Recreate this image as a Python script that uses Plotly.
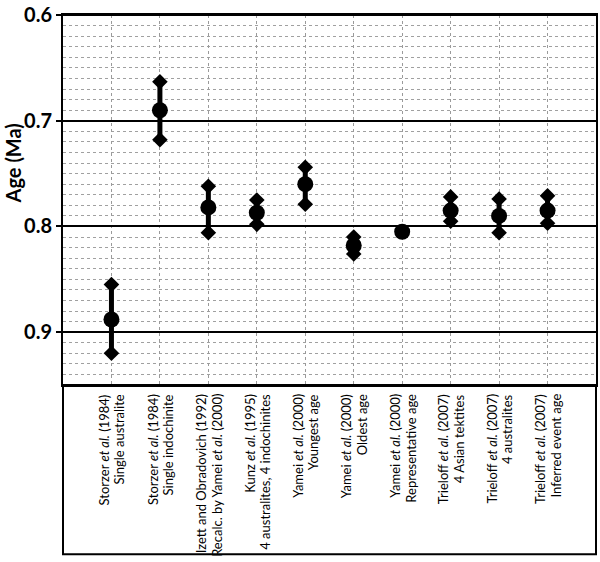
import plotly.graph_objects as go

label_line1 = [
    "Storzer <i>et al.</i> (1984)",
    "Storzer <i>et al.</i> (1984)",
    "Izett and Obradovich (1992)",
    "Kunz <i>et al.</i> (1995)",
    "Yamei <i>et al.</i> (2000)",
    "Yamei <i>et al.</i> (2000)",
    "Yamei <i>et al.</i> (2000)",
    "Trieloff <i>et al.</i> (2007)",
    "Trieloff <i>et al.</i> (2007)",
    "Trieloff <i>et al.</i> (2007)",
]
label_line2 = [
    "Single australite",
    "Single indochinite",
    "Recalc. by Yamei <i>et al.</i> (2000)",
    "4 australites, 4 indochinites",
    "Youngest age",
    "Oldest age",
    "Representative age",
    "4 Asian tektites",
    "4 australites",
    "Inferred event age",
]
positions = [1, 2, 3, 4, 5, 6, 7, 8, 9, 10]
age_center = [0.888, 0.690, 0.782, 0.787, 0.760, 0.818, 0.805, 0.785, 0.790, 0.785]
age_young = [0.855, 0.663, 0.762, 0.775, 0.744, 0.810, None, 0.772, 0.774, 0.771]
age_old = [0.920, 0.718, 0.806, 0.798, 0.779, 0.826, None, 0.795, 0.806, 0.797]

y_ticks = [0.6, 0.7, 0.8, 0.9]
y_tick_text = ["0.6", "0.7", "0.8", "0.9"]

FONT = "Lato"
fig = go.Figure()

for x, c, yu, yo in zip(positions, age_center, age_young, age_old):
    if yu is not None:
        fig.add_trace(go.Scatter(
            x=[x, x], y=[yu, yo], mode="lines+markers",
            line=dict(color="black", width=5),
            marker=dict(symbol="diamond", size=12, color="black"),
            showlegend=False, hoverinfo="skip"))
    fig.add_trace(go.Scatter(
        x=[x], y=[c], mode="markers",
        marker=dict(symbol="circle", size=16, color="black"),
        showlegend=False))

for x, l1, l2 in zip(positions, label_line1, label_line2):
    for txt, dx in ((l1, -7.5), (l2, 8.0)):
        fig.add_annotation(
            x=x, xref="x", y=0, yref="paper", yshift=-7, xshift=dx,
            text=txt, showarrow=False, textangle=-90,
            xanchor="center", yanchor="top",
            font=dict(family=FONT, size=13, color="black"))

fig.add_annotation(
    x=-0.093, xref="paper", y=0.6, yref="paper",
    text="<b>Age (Ma)</b>", showarrow=False, textangle=-90,
    xanchor="center", yanchor="middle",
    font=dict(family=FONT, size=20, color="black"))

fig.add_shape(type="rect", xref="paper", yref="paper",
              x0=0, x1=1, y0=-0.4577, y1=0,
              line=dict(color="black", width=2))
fig.add_shape(type="line", xref="paper", yref="paper",
              x0=0, x1=1, y0=1, y1=1,
              line=dict(color="black", width=2))

fig.update_layout(
    width=600, height=562,
    margin=dict(l=63, r=2, t=7, b=177),
    plot_bgcolor="white", paper_bgcolor="white",
    showlegend=False,
    xaxis=dict(
        range=[0, 11], tickvals=positions, showticklabels=False,
        showgrid=True, gridcolor="#9a9a9a", griddash="dot", gridwidth=1,
        zeroline=False, showline=True, mirror=True, linecolor="black", linewidth=2,
        ticks=""),
    yaxis=dict(
        range=[0.95, 0.5999], tickvals=y_ticks, ticktext=y_tick_text,
        showgrid=True, gridcolor="black", gridwidth=2,
        minor=dict(dtick=0.01, tick0=0.6, showgrid=True, gridcolor="#a0a0a0",
                   griddash="dot", gridwidth=1, ticks=""),
        zeroline=False, showline=True, mirror=True, linecolor="black", linewidth=2,
        ticks="outside", ticklen=5, tickwidth=2, tickcolor="black",
        ticklabeloverflow="allow",
        tickfont=dict(family=FONT, size=20, color="black", weight="bold")),
)

fig.write_html("out.html", config={"displayModeBar": False},
               post_script="document.body.style.margin='0';")
